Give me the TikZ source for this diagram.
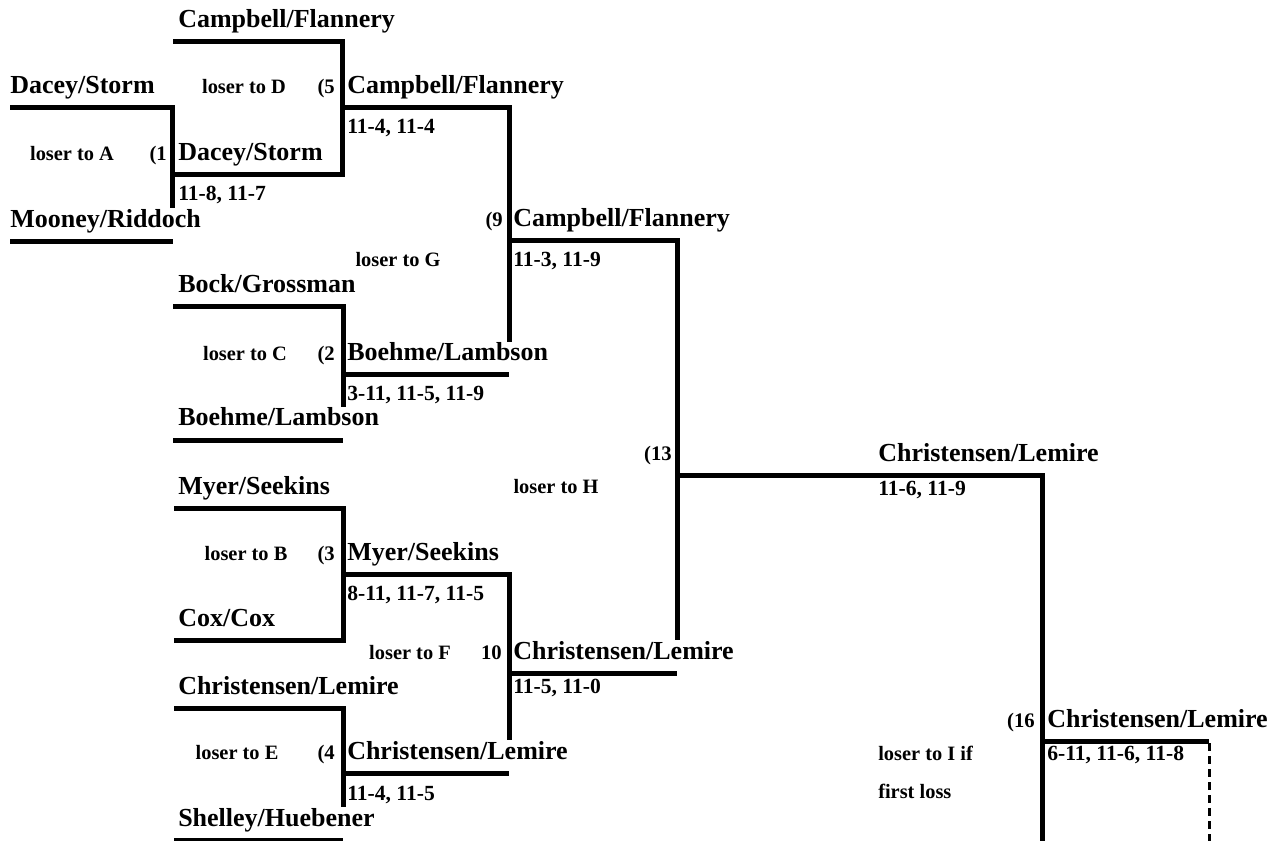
\documentclass[tikz,border=0pt]{standalone}
\usepackage{fontspec}
\setmainfont{Liberation Serif}
\tikzset{
  team/.style={font=\fontsize{19.5}{19.5}\selectfont\bfseries, anchor=base west, inner sep=0pt},
  score/.style={font=\fontsize{16.2}{16}\selectfont\bfseries, anchor=base west, inner sep=0pt},
  seed/.style={font=\fontsize{15.5}{16}\selectfont\bfseries, anchor=base east, inner sep=0pt},
  loser/.style={font=\fontsize{15.3}{16}\selectfont\bfseries, anchor=base, inner sep=0pt},
  bracket/.style={line width=3.75pt},
}
\begin{document}
\begin{tikzpicture}[x=0.75pt,y=-0.75pt]
    \useasboundingbox (0,0) rectangle (1274,841);

    % bracket lines
    \draw[bracket] (10,108) -| (172,208);
    \draw[bracket] (10,242) -- (173,242);
    \draw[bracket] (173,42) -| (342,175) -- (173,175);
    \draw[bracket] (342,108) -| (509,342);
    \draw[bracket] (173,307) -| (343,407);
    \draw[bracket] (343,375) -- (509,375);
    \draw[bracket] (173,440) -- (343,440);
    \draw[bracket] (509,241) -| (677,640);
    \draw[bracket] (174,508) -| (343,640) -- (174,640);
    \draw[bracket] (343,574) -| (509,740);
    \draw[bracket] (509,673) -- (677,673);
    \draw[bracket] (174,708) -| (343,807);
    \draw[bracket] (343,773) -- (509,773);
    \draw[bracket] (174,840) -- (343,840);
    \draw[bracket] (677,475) -| (1042,845);
    \draw[bracket] (1042,741) -- (1209,741);
    \draw[line width=2.25pt, dash pattern=on 6pt off 3.75pt] (1209,743) -- (1209,845);

    % entrants
    \foreach \nm/\txt/\x/\y in {
        dsA/{Dacey/Storm}/10/94, mrA/{Mooney/Riddoch}/10/228,
        cfA/{Campbell/Flannery}/178/28, bgA/{Bock/Grossman}/178/293,
        blA/{Boehme/Lambson}/178/426, msA/{Myer/Seekins}/178/494,
        ccA/{Cox/Cox}/178/626, clA/{Christensen/Lemire}/178/694,
        shA/{Shelley/Huebener}/178/826} {
        \node[team] (\nm) at (\x,\y) {\txt};
    }

    % winners
    \foreach \nm/\txt/\x/\y in {
        ds1/{Dacey/Storm}/178/161, cf5/{Campbell/Flannery}/347/94,
        bl2/{Boehme/Lambson}/347/361, cf9/{Campbell/Flannery}/513/227,
        ms3/{Myer/Seekins}/347/560, cl4/{Christensen/Lemire}/347/759,
        cl10/{Christensen/Lemire}/513/659, cl13/{Christensen/Lemire}/878/461,
        cl16/{Christensen/Lemire}/1047/727} {
        \node[team] (\nm) at (\x,\y) {\txt};
    }

    % match numbers
    \foreach \nm/\txt/\x/\y in {
        m1/(1/167/161, m5/(5/335/94, m2/(2/335/361, m9/(9/503/227,
        m3/(3/335/560, m4/(4/335/759, m10/10/502/659, m13/(13/672/460,
        m16/(16/1035/727} {
        \node[seed] (\nm) at (\x,\y) {\txt};
    }

    % scores
    \foreach \nm/\txt/\x/\y in {
        s1/{11-8, 11-7}/178/201, s5/{11-4, 11-4}/347/134,
        s2/{3-11, 11-5, 11-9}/347/401, s9/{11-3, 11-9}/513/267,
        s3/{8-11, 11-7, 11-5}/347/600, s4/{11-4, 11-5}/347/800,
        s10/{11-5, 11-0}/513/693, s13/{11-6, 11-9}/878/495,
        s16/{6-11, 11-6, 11-8}/1047/760} {
        \node[score] (\nm) at (\x,\y) {\txt};
    }

    % losers
    \node[loser] (lA) at (72,161) {loser to A};
    \node[loser] (lD) at (244,94) {loser to D};
    \node[loser] (lG) at (398,267) {loser to G};
    \node[loser] (lC) at (245,361) {loser to C};
    \node[loser] (lH) at (556,493) {loser to H};
    \node[loser] (lB) at (246,560) {loser to B};
    \node[loser] (lF) at (410,659) {loser to F};
    \node[loser] (lE) at (237,759) {loser to E};
    \node[loser, anchor=base west] (lI) at (878,760) {loser to I if};
    \node[loser, anchor=base west] (lI2) at (878,798) {first loss};
\end{tikzpicture}
\end{document}
